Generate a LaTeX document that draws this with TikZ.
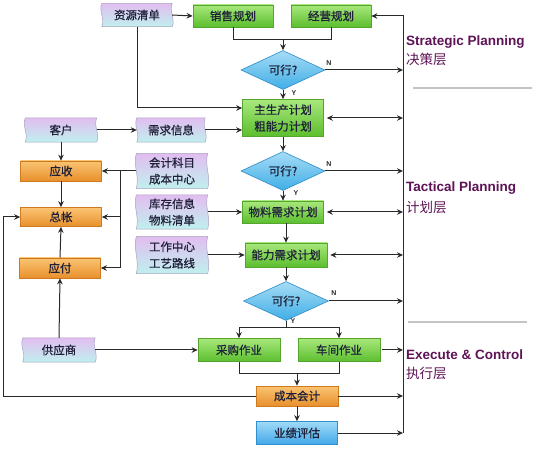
\documentclass[tikz,border=0pt]{standalone}
\usepackage{fontspec}
\newfontfamily\cjk[FakeBold=0.6]{Noto Sans CJK SC}
\newfontfamily\cjkr{Noto Sans CJK SC}
\newfontfamily\lab{Liberation Sans}
\usetikzlibrary{shapes.geometric,arrows.meta,calc,backgrounds}
\definecolor{txt}{HTML}{1E2038}
\definecolor{lnc}{HTML}{2A2A2A}
\definecolor{gT}{HTML}{A8E87C}
\definecolor{gB}{HTML}{5CBE2E}
\definecolor{gD}{HTML}{55A62E}
\definecolor{oT}{HTML}{FAC473}
\definecolor{oB}{HTML}{E8902C}
\definecolor{oD}{HTML}{D07A20}
\definecolor{bT}{HTML}{A0DAF8}
\definecolor{bB}{HTML}{42A8E8}
\definecolor{bD}{HTML}{3090D0}
\definecolor{dT}{HTML}{A6DCF6}
\definecolor{dB}{HTML}{40AEE6}
\definecolor{dD}{HTML}{2F8CC8}
\definecolor{tT}{HTML}{E2BDF0}
\definecolor{tM}{HTML}{ECE8F6}
\definecolor{tB}{HTML}{BFF0EE}
\definecolor{tD}{HTML}{A8A4C0}
\definecolor{purp}{HTML}{5E1356}
\definecolor{sep}{HTML}{C4C4C4}
\newcommand\tapebg[1]{%
  \shadedraw[top color=tT, middle color=tM, bottom color=tB, draw=tD, line width=0.5pt]
   (#1.north west) -- (#1.north east)
   .. controls ($(#1.north east)!0.35!(#1.south east)+(-3.5,0)$) and ($(#1.north east)!0.65!(#1.south east)+(3.5,0)$) .. (#1.south east)
   -- (#1.south west)
   .. controls ($(#1.south west)!0.35!(#1.north west)+(3.5,0)$) and ($(#1.south west)!0.65!(#1.north west)+(-3.5,0)$) .. cycle;}
\tikzset{
  box/.style={rectangle, inner sep=0pt, text=txt, align=center,
    font=\cjk\fontsize{11.5}{16.5}\selectfont},
  gbox/.style={box, top color=gT, bottom color=gB, draw=gD, line width=0.6pt},
  obox/.style={box, top color=oT, bottom color=oB, draw=oD, line width=0.6pt},
  bbox/.style={box, top color=bT, bottom color=bB, draw=bD, line width=0.6pt},
  doc/.style={box},
  dia/.style={diamond, inner sep=0pt, top color=dT, bottom color=dB, draw=dD,
    line width=0.6pt, text=txt, font=\cjk\fontsize{11.5}{14}\selectfont},
  ln/.style={draw=lnc, line width=1pt},
  arr/.style={ln, -{Stealth[length=6pt,width=5.5pt]}},
  darr/.style={ln, {Stealth[length=6pt,width=5.5pt]}-{Stealth[length=6pt,width=5.5pt]}},
  yn/.style={font=\lab\bfseries\fontsize{7}{8}\selectfont, text=lnc, inner sep=0pt},
  ttl/.style={font=\lab\bfseries\fontsize{13.5}{15}\selectfont, text=purp, anchor=west, inner sep=0pt},
  ttc/.style={font=\cjkr\fontsize{13.5}{15}\selectfont, text=purp, anchor=west, inner sep=0pt},
}
\begin{document}
\begin{tikzpicture}[x=1pt,y=-1pt]
\path[use as bounding box] (0,0) rectangle (536,449);
% nodes
\node[doc, minimum width=70pt, minimum height=23pt] (zyqd) at (137,15) {资源清单};
\node[gbox, minimum width=80pt, minimum height=22pt] (xsgh) at (233,16) {销售规划};
\node[gbox, minimum width=80pt, minimum height=22pt] (jygh) at (331,16) {经营规划};
\node[dia, minimum width=84pt, minimum height=36pt] (d1) at (283,70) {可行?};
\node[gbox, minimum width=81pt, minimum height=37pt] (mps) at (283,118) {主生产计划\\粗能力计划};
\node[doc, minimum width=71pt, minimum height=24pt] (kh) at (61,130) {客户};
\node[doc, minimum width=68pt, minimum height=24pt] (xqxx) at (171,130) {需求信息};
\node[obox, minimum width=81pt, minimum height=20pt] (ys) at (61,171) {应收};
\node[obox, minimum width=81pt, minimum height=19pt] (zz) at (61,217) {总帐};
\node[obox, minimum width=81pt, minimum height=20pt] (yf) at (60,268) {应付};
\node[doc, minimum width=71pt, minimum height=35pt] (kjkm) at (172,171) {会计科目\\成本中心};
\node[doc, minimum width=71pt, minimum height=34pt] (kcxx) at (172,212) {库存信息\\物料清单};
\node[doc, minimum width=71pt, minimum height=37pt] (gzzx) at (172,255) {工作中心\\工艺路线};
\node[dia, minimum width=84pt, minimum height=33pt] (d2) at (283,171) {可行?};
\node[gbox, minimum width=81pt, minimum height=22pt] (mrp) at (283,212) {物料需求计划};
\node[gbox, minimum width=82pt, minimum height=24pt] (crp) at (286,255) {能力需求计划};
\node[dia, minimum width=85pt, minimum height=32pt] (d3) at (286,301) {可行?};
\node[gbox, minimum width=82pt, minimum height=23pt] (cgzy) at (239,350) {采购作业};
\node[gbox, minimum width=82pt, minimum height=23pt] (cjzy) at (339,350) {车间作业};
\node[doc, minimum width=72pt, minimum height=24pt] (gys) at (59,350) {供应商};
\node[obox, minimum width=82pt, minimum height=20pt] (cbkj) at (297,396) {成本会计};
\node[bbox, minimum width=81pt, minimum height=23pt] (yjpg) at (297,433) {业绩评估};
% tape backgrounds
\begin{scope}[on background layer]
\fill[white] (0,0) rectangle (536,449);
\tapebg{zyqd}\tapebg{kh}\tapebg{xqxx}\tapebg{kjkm}\tapebg{kcxx}\tapebg{gzzx}\tapebg{gys}
\end{scope}
% helper coordinates
\coordinate (Rb) at (403,433);
\coordinate (m1) at (283,40);
\coordinate (j1) at (120,171);
\coordinate (s1) at (286,328);
\coordinate (m2) at (297,373);
\coordinate (L) at (3,217);
% rail
\draw[arr] (Rb) |- (jygh.east);
% top
\draw[arr] (zyqd.east) -- (xsgh.west);
\draw[ln] (xsgh.south) |- (m1);
\draw[ln] (jygh.south) |- (m1);
\draw[arr] (m1) -- (d1.north);
\draw[arr] (d1.east) -- (d1.east -| Rb);
\node[yn] (n1) at (329,63) {N};
\draw[arr] (d1.south) -- (mps.north);
\node[yn] (y1) at (294,93) {Y};
\draw[arr] (zyqd.south) |- ([yshift=10pt]mps.west);
\draw[darr, shorten <=3pt] (mps.east) -- (mps.east -| Rb);
% customer
\draw[arr] (kh.east) -- (xqxx.west);
\draw[arr] (xqxx.east) -- (xqxx.east -| mps.west);
\draw[arr] (kh.south) -- (ys.north);
\draw[arr] (ys.south) -- (zz.north);
\draw[arr] (yf.north) -- (zz.south);
\draw[ln] (kjkm.west) -- (j1);
\draw[arr] (j1) -- (ys.east);
\draw[arr] (j1) |- (zz.east);
\draw[arr] (j1) |- (yf.east);
% tactical
\draw[arr] (mps.south) -- (d2.north);
\draw[arr] (d2.east) -- (d2.east -| Rb);
\node[yn] (n2) at (329,164) {N};
\draw[arr] (d2.south) -- (mrp.north);
\node[yn] (y2) at (296,193) {Y};
\draw[arr] (kcxx.east) -- (mrp.west);
\draw[darr, shorten <=3pt] (mrp.east) -- (mrp.east -| Rb);
\draw[arr] (crp.north |- mrp.south) -- (crp.north);
\draw[arr] (gzzx.east) -- (crp.west);
\draw[darr, shorten <=3pt] (crp.east) -- (crp.east -| Rb);
\draw[arr] (crp.south) -- (d3.north);
\draw[arr] (d3.east) -- (d3.east -| Rb);
\node[yn] (n3) at (334,293) {N};
% execute
\draw[ln] (d3.south) -- (s1);
\node[yn] (y3) at (293,321) {Y};
\draw[arr] (s1) -| (cgzy.north);
\draw[arr] (s1) -| (cjzy.north);
\draw[arr, shorten <=2pt] (cjzy.east) -- (cjzy.east -| Rb);
\draw[arr] (gys.north) -- (yf.south);
\draw[arr] (gys.east) -- (cgzy.west);
\draw[ln] (cgzy.south) |- (m2);
\draw[ln] (cjzy.south) |- (m2);
\draw[arr] (m2) -- (cbkj.north);
\draw[arr] (cbkj.west) -| (L) -- (zz.west);
\draw[arr] (cbkj.east) -- (cbkj.east -| Rb);
\draw[arr] (cbkj.south) -- (yjpg.north);
\draw[arr] (yjpg.east) -- (Rb);
% right labels
\node[ttl] (t1) at (406,42) {Strategic Planning};
\node[ttc] (c1) at (406,59) {决策层};
\draw[sep, line width=1.3pt] (413,88) -- (532,88);
\node[ttl] (t2) at (406,188) {Tactical Planning};
\node[ttc] (c2) at (406,207) {计划层};
\draw[sep, line width=1.3pt] (408,322) -- (527,322);
\node[ttl] (t3) at (406,355) {Execute \& Control};
\node[ttc] (c3) at (406,373) {执行层};
\end{tikzpicture}
\end{document}
